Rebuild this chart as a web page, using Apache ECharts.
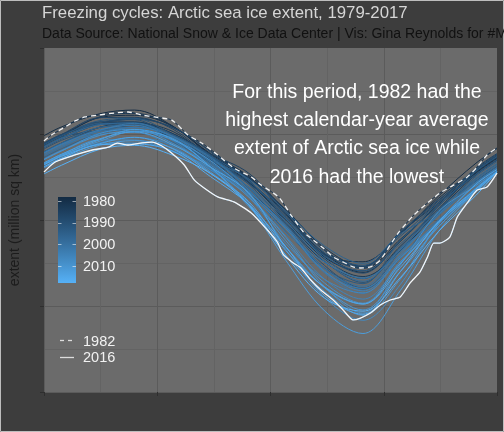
<!DOCTYPE html>
<html><head><meta charset="utf-8">
<script src="https://cdn.jsdelivr.net/npm/echarts@6/dist/echarts.min.js"></script>
<style>html,body{margin:0;padding:0;background:#3d3d3d;}#c{width:504px;height:432px;}</style>
</head><body><div id="c"></div>
<script>
// Day-of-year positions for the (mid-month) readings
const DAYS = [1, 15, 46, 74, 105, 135, 166, 196, 227, 258, 288, 319, 349, 366];
const ext1979 = [14.90, 15.41, 16.18, 16.39, 15.45, 13.86, 12.53, 10.31, 8.04, 6.95, 8.75, 10.94, 12.77, 13.62];
const ext1980 = [14.36, 14.86, 15.96, 16.09, 15.43, 13.79, 12.20, 10.09, 7.98, 7.57, 9.18, 11.40, 13.30, 14.15];
const ext1981 = [14.41, 14.91, 15.60, 15.68, 15.01, 13.76, 12.44, 10.37, 7.84, 7.04, 8.87, 10.84, 12.72, 13.57];
const ext1983 = [14.44, 14.94, 16.00, 16.20, 15.43, 13.76, 12.50, 10.59, 8.38, 7.29, 9.19, 11.27, 12.89, 13.74];
const ext1984 = [13.97, 14.47, 15.40, 15.64, 15.14, 13.61, 12.17, 9.99, 7.74, 6.71, 8.21, 10.57, 12.64, 13.49];
const ext1985 = [14.22, 14.72, 15.60, 15.92, 15.36, 14.02, 12.35, 9.88, 7.57, 6.60, 8.47, 10.66, 12.80, 13.65];
const ext1986 = [14.39, 14.89, 15.70, 15.71, 15.02, 13.85, 12.72, 10.48, 8.23, 7.31, 9.27, 11.02, 13.01, 13.86];
const ext1987 = [14.47, 14.97, 15.95, 15.97, 15.28, 13.68, 12.42, 10.50, 8.04, 7.18, 9.21, 11.12, 12.96, 13.81];
const ext1988 = [14.47, 14.97, 15.60, 15.86, 15.38, 13.96, 12.24, 10.20, 7.97, 7.27, 9.31, 11.17, 12.82, 13.67];
const ext1989 = [14.33, 14.83, 15.21, 15.49, 14.72, 13.35, 12.24, 10.27, 7.92, 6.91, 8.76, 10.99, 12.91, 13.76];
const ext1990 = [14.43, 14.93, 15.70, 15.83, 14.70, 13.51, 11.70, 9.75, 7.36, 6.04, 8.19, 10.82, 12.62, 13.47];
const ext1991 = [14.13, 14.63, 15.38, 15.52, 14.85, 13.66, 12.08, 9.80, 7.61, 6.37, 8.42, 10.68, 12.27, 13.12];
const ext1992 = [14.25, 14.75, 15.55, 15.58, 14.85, 13.53, 12.10, 10.39, 8.11, 7.37, 9.05, 10.98, 12.66, 13.51];
const ext1993 = [14.38, 14.88, 15.78, 15.91, 14.94, 13.78, 11.85, 9.66, 7.21, 6.30, 8.82, 10.83, 12.83, 13.68];
const ext1994 = [14.26, 14.76, 15.61, 15.62, 14.96, 13.75, 12.30, 10.10, 7.90, 7.04, 8.61, 10.54, 12.54, 13.39];
const ext1995 = [13.94, 14.44, 15.21, 15.26, 14.68, 13.17, 11.62, 9.32, 7.18, 5.98, 7.76, 10.39, 12.29, 13.14];
const ext1996 = [13.64, 14.14, 15.03, 15.25, 14.50, 13.46, 12.38, 10.49, 8.49, 7.48, 9.19, 10.48, 12.39, 13.24];
const ext1997 = [13.97, 14.47, 15.39, 15.51, 14.80, 13.34, 11.93, 10.05, 7.78, 6.59, 8.33, 10.56, 12.43, 13.28];
const ext1998 = [14.23, 14.73, 15.55, 15.65, 14.86, 13.69, 11.89, 9.89, 7.61, 6.44, 8.34, 10.40, 12.30, 13.15];
const ext1999 = [13.92, 14.42, 15.23, 15.38, 14.88, 13.57, 11.90, 9.53, 7.19, 6.02, 8.17, 10.27, 12.19, 13.04];
const ext2000 = [13.72, 14.22, 15.15, 15.29, 14.61, 13.27, 11.63, 9.68, 7.17, 6.15, 8.29, 10.02, 12.08, 12.93];
const ext2001 = [13.78, 14.28, 15.19, 15.62, 14.83, 13.64, 11.76, 9.26, 7.55, 6.63, 8.14, 10.29, 12.02, 12.87];
const ext2002 = [13.86, 14.36, 15.05, 15.39, 14.85, 13.37, 11.70, 9.52, 6.93, 5.73, 8.00, 10.34, 12.18, 13.03];
const ext2003 = [13.90, 14.40, 15.24, 15.51, 14.61, 12.96, 11.63, 9.61, 6.98, 6.02, 7.91, 9.95, 12.13, 12.98];
const ext2004 = [13.55, 14.05, 14.96, 15.09, 14.26, 12.90, 11.48, 9.49, 7.03, 5.88, 7.82, 9.92, 11.88, 12.80];
const ext2005 = [13.20, 13.70, 14.49, 14.79, 14.34, 13.20, 11.43, 9.05, 6.56, 5.40, 7.49, 9.96, 11.73, 12.80];
const ext2006 = [13.10, 13.60, 14.41, 14.48, 14.02, 12.92, 11.33, 8.62, 6.55, 5.76, 7.78, 9.80, 11.62, 12.80];
const ext2007 = [13.31, 13.81, 14.66, 14.65, 13.96, 13.05, 11.56, 8.28, 5.49, 4.17, 6.24, 9.79, 11.67, 12.80];
const ext2008 = [13.51, 14.01, 15.03, 15.27, 14.45, 13.09, 11.34, 8.98, 6.11, 4.59, 7.37, 10.49, 12.00, 12.85];
const ext2009 = [13.52, 14.02, 14.92, 15.16, 14.65, 13.46, 11.52, 8.79, 6.34, 5.16, 7.56, 9.61, 11.84, 12.80];
const ext2010 = [13.27, 13.77, 14.58, 15.16, 14.74, 13.08, 10.79, 8.41, 6.07, 4.77, 6.99, 9.62, 11.70, 12.80];
const ext2011 = [13.03, 13.53, 14.35, 14.61, 14.16, 12.79, 10.98, 7.95, 5.84, 4.46, 6.56, 9.78, 11.77, 12.80];
const ext2012 = [13.24, 13.74, 14.67, 15.26, 14.69, 13.09, 10.87, 7.64, 4.72, 3.40, 5.89, 9.35, 11.66, 12.80];
const ext2013 = [13.32, 13.82, 14.72, 15.12, 14.37, 13.09, 11.57, 8.42, 6.08, 5.11, 7.45, 9.87, 11.68, 12.80];
const ext2014 = [13.20, 13.70, 14.44, 14.81, 14.13, 12.72, 11.07, 8.21, 6.12, 5.12, 7.23, 9.88, 12.08, 12.93];
const ext2015 = [13.09, 13.59, 14.38, 14.42, 13.99, 12.53, 10.90, 8.43, 5.61, 4.52, 6.99, 9.93, 11.80, 12.80];
const ext2017 = [12.68, 13.18, 14.11, 14.34, 13.76, 12.71, 10.88, 7.91, 5.46, 4.70, 6.64, 9.34, 11.43, 12.80];
// Highlighted years, read more densely from the picture
const DAYS_1982 = [1, 7, 18, 26, 34, 45, 58, 69, 80, 90, 104, 117, 128, 141, 154, 168, 176, 190, 200, 210, 218, 226, 234, 242, 250, 256, 264, 272, 280, 287, 299, 310, 320, 331, 342, 350, 358, 366];
const ext1982 = [14.59, 14.94, 15.41, 15.76, 15.99, 16.10, 16.22, 16.28, 16.10, 15.99, 15.81, 14.94, 14.48, 13.78, 13.02, 12.50, 12.03, 11.34, 10.29, 9.30, 8.84, 8.37, 7.85, 7.56, 7.27, 7.21, 7.27, 7.67, 8.55, 9.30, 10.29, 10.99, 11.57, 12.03, 12.50, 13.08, 13.78, 14.19];
const DAYS_2016 = [1, 10, 26, 40, 53, 60, 69, 80, 88, 96, 104, 114, 122, 130, 141, 154, 168, 181, 189, 194, 202, 208, 216, 224, 234, 242, 250, 256, 264, 272, 280, 288, 296, 304, 310, 315, 320, 328, 334, 342, 350, 358, 366];
const ext2016 = [12.79, 13.37, 13.78, 14.07, 14.24, 14.47, 14.36, 14.48, 14.53, 14.30, 13.88, 13.20, 12.33, 11.86, 11.34, 11.05, 10.41, 9.42, 8.72, 7.97, 7.50, 7.21, 6.51, 5.93, 5.35, 4.77, 4.19, 4.30, 4.59, 5.06, 5.35, 5.52, 6.34, 6.98, 7.85, 8.66, 8.66, 9.01, 10.17, 10.99, 11.74, 11.92, 12.73];

const YEARS = [1979,1980,1981,1982,1983,1984,1985,1986,1987,1988,1989,1990,1991,1992,1993,1994,1995,1996,1997,1998,1999,2000,2001,2002,2003,2004,2005,2006,2007,2008,2009,2010,2011,2012,2013,2014,2015,2016,2017];
const YEAR_VALUES = [ext1979,ext1980,ext1981,ext1982,ext1983,ext1984,ext1985,ext1986,ext1987,ext1988,ext1989,ext1990,ext1991,ext1992,ext1993,ext1994,ext1995,ext1996,ext1997,ext1998,ext1999,ext2000,ext2001,ext2002,ext2003,ext2004,ext2005,ext2006,ext2007,ext2008,ext2009,ext2010,ext2011,ext2012,ext2013,ext2014,ext2015,ext2016,ext2017];
const COLORBAR_TICKS = [1980, 1990, 2000, 2010];
const HIGHLIGHT_NAMES = ['1982', '2016'];
const TITLE = 'Freezing cycles: Arctic sea ice extent, 1979-2017';
const SUBTITLE = 'Data Source: National Snow & Ice Data Center | Vis: Gina Reynolds for #MakeoverMonday';
const NOTE = ['For this period, 1982 had the', 'highest calendar-year average', 'extent of Arctic sea ice while', '2016 had the lowest'];
const Y_NAME = 'extent (million sq km)';

function daysFor(y){ return y === 1982 ? DAYS_1982 : (y === 2016 ? DAYS_2016 : DAYS); }

// ggplot2-like Lab gradient #132B43 -> #56B1F7
function hex2rgb(h){return [parseInt(h.slice(1,3),16),parseInt(h.slice(3,5),16),parseInt(h.slice(5,7),16)];}
function s2l(c){c/=255;return c<=0.04045?c/12.92:Math.pow((c+0.055)/1.055,2.4);}
function l2s(c){c=c<=0.0031308?12.92*c:1.055*Math.pow(c,1/2.4)-0.055;return Math.round(Math.max(0,Math.min(1,c))*255);}
function rgb2lab(rgb){const r=s2l(rgb[0]),g=s2l(rgb[1]),b=s2l(rgb[2]);
  let x=(r*0.4124+g*0.3576+b*0.1805)/0.95047,y=(r*0.2126+g*0.7152+b*0.0722),z=(r*0.0193+g*0.1192+b*0.9505)/1.08883;
  const f=t=>t>0.008856?Math.cbrt(t):7.787*t+16/116;x=f(x);y=f(y);z=f(z);return [116*y-16,500*(x-y),200*(y-z)];}
function lab2rgb(lab){let y=(lab[0]+16)/116,x=lab[1]/500+y,z=y-lab[2]/200;
  const fi=t=>t*t*t>0.008856?t*t*t:(t-16/116)/7.787;x=fi(x)*0.95047;y=fi(y);z=fi(z)*1.08883;
  return [l2s(x*3.2406-y*1.5372-z*0.4986),l2s(-x*0.9689+y*1.8758+z*0.0415),l2s(x*0.0557-y*0.2040+z*1.0570)];}
const LOW = rgb2lab(hex2rgb('#132B43')), HIGH = rgb2lab(hex2rgb('#56B1F7'));
const Y0 = YEARS[0], Y1 = YEARS[YEARS.length-1];
function yearColor(yr){const t=(yr-Y0)/(Y1-Y0);const c=lab2rgb([0,1,2].map(i=>LOW[i]+(HIGH[i]-LOW[i])*t));return 'rgb('+c.join(',')+')';}

const series = YEARS.map((yr, i) => ({
  type: 'line', name: String(yr), symbol: 'none', showSymbol: false, silent: true,
  smooth: (yr === 1982 || yr === 2016) ? 0.2 : 0.35, z: 2,
  lineStyle: { width: 1, color: yearColor(yr) },
  data: daysFor(yr).map((d, j) => [d - 1, YEAR_VALUES[i][j]])
}));
series.push({ type: 'line', name: HIGHLIGHT_NAMES[0], symbol: 'none', silent: true, smooth: 0.2, z: 3,
  lineStyle: { width: 1.3, color: '#f2f2f2', type: [5, 4] },
  data: DAYS_1982.map((d, j) => [d - 1, ext1982[j]]) });
series.push({ type: 'line', name: HIGHLIGHT_NAMES[1], symbol: 'none', silent: true, smooth: 0.2, z: 3,
  lineStyle: { width: 1.3, color: '#f5f5f5' },
  data: DAYS_2016.map((d, j) => [d - 1, ext2016[j]]) });

const FONT = '"Liberation Sans", Arial, sans-serif';
function txt(x, y, text, size, fill, align, extra) {
  return Object.assign({ type: 'text', x: x, y: y, silent: true, z: 10,
    style: { text: text, fill: fill, font: size + 'px ' + FONT, fontSize: size, fontFamily: FONT,
      align: align || 'left', textAlign: align || 'left', verticalAlign: 'middle', textVerticalAlign: 'middle' } }, extra || {});
}

// colour bar geometry (legend)
const CB = { x: 58, y: 197, w: 18, h: 86 };
const cbY = yr => 201 + (yr - 1980) * 2.167;
const graphics = [
  { type: 'rect', silent: true, z: 0, shape: { x: 0.5, y: 0.5, width: 503, height: 431 }, style: { fill: null, stroke: '#bdbdbd', lineWidth: 1 } },
  txt(42, 13.6, TITLE, 16.8, '#d6d6d6'),
  txt(42, 33.9, SUBTITLE, 14, '#111111'),
  { type: 'rect', silent: true, z: 10, shape: { x: CB.x, y: CB.y, width: CB.w, height: CB.h },
    style: { fill: new echarts.graphic.LinearGradient(0, 0, 0, 1, [
      { offset: 0, color: yearColor(Y0) }, { offset: 0.25, color: yearColor(Y0 + (Y1 - Y0) * 0.25) },
      { offset: 0.5, color: yearColor(Y0 + (Y1 - Y0) * 0.5) }, { offset: 0.75, color: yearColor(Y0 + (Y1 - Y0) * 0.75) },
      { offset: 1, color: yearColor(Y1) }]) } }
];
COLORBAR_TICKS.forEach(yr => {
  const y = Math.round(cbY(yr)) + 0.5;
  graphics.push({ type: 'line', silent: true, z: 11, shape: { x1: CB.x, y1: y, x2: CB.x + 3.5, y2: y }, style: { stroke: 'rgba(255,255,255,0.55)', lineWidth: 1 } });
  graphics.push({ type: 'line', silent: true, z: 11, shape: { x1: CB.x + CB.w - 3.5, y1: y, x2: CB.x + CB.w, y2: y }, style: { stroke: 'rgba(255,255,255,0.55)', lineWidth: 1 } });
  graphics.push(txt(83, cbY(yr) + 0.5, String(yr), 14.5, '#f2f2f2'));
});
// line-type legend
graphics.push({ type: 'line', silent: true, z: 11, shape: { x1: 60, y1: 340.5, x2: 74, y2: 340.5 }, style: { stroke: '#dddddd', lineWidth: 1.3, lineDash: [4, 4] } });
graphics.push({ type: 'line', silent: true, z: 11, shape: { x1: 60, y1: 357.5, x2: 74, y2: 357.5 }, style: { stroke: '#dddddd', lineWidth: 1.3 } });
graphics.push(txt(83, 341.5, HIGHLIGHT_NAMES[0], 14.5, '#f2f2f2'));
graphics.push(txt(83, 358, HIGHLIGHT_NAMES[1], 14.5, '#f2f2f2'));
NOTE.forEach((line, i) => graphics.push(txt(357, 92.7 + i * 28.2, line, 19.5, '#ffffff', 'center')));

const chart = echarts.init(document.getElementById('c'), null, { renderer: 'canvas' });
chart.setOption({
  animation: false,
  backgroundColor: '#3d3d3d',
  textStyle: { fontFamily: FONT },
  grid: { left: 42, top: 48, right: 7, bottom: 40, show: true, backgroundColor: '#6b6b6b', borderWidth: 0 },
  xAxis: {
    type: 'value', min: 0, max: 365, interval: 91.25,
    axisLine: { show: false },
    axisTick: { show: true, length: 4, lineStyle: { color: '#2e2e2e', width: 1 } },
    axisLabel: { show: false },
    splitLine: { show: true, showMaxLine: false, lineStyle: { color: '#5b5b5b', width: 1 } },
    minorTick: { show: false, splitNumber: 2 },
    minorSplitLine: { show: true, lineStyle: { color: '#636363', width: 1 } }
  },
  yAxis: {
    type: 'value', min: 0, max: 20, interval: 5,
    name: Y_NAME, nameLocation: 'middle', nameRotate: 90, nameGap: 22,
    nameTextStyle: { color: '#1c1c1c', fontSize: 14, fontFamily: FONT },
    axisLine: { show: false },
    axisTick: { show: true, length: 4, lineStyle: { color: '#2e2e2e', width: 1 } },
    axisLabel: { show: false },
    splitLine: { show: true, showMaxLine: false, lineStyle: { color: '#5b5b5b', width: 1 } },
    minorTick: { show: false, splitNumber: 2 },
    minorSplitLine: { show: true, lineStyle: { color: '#636363', width: 1 } }
  },
  graphic: { elements: graphics },
  series: series
});
</script></body></html>
